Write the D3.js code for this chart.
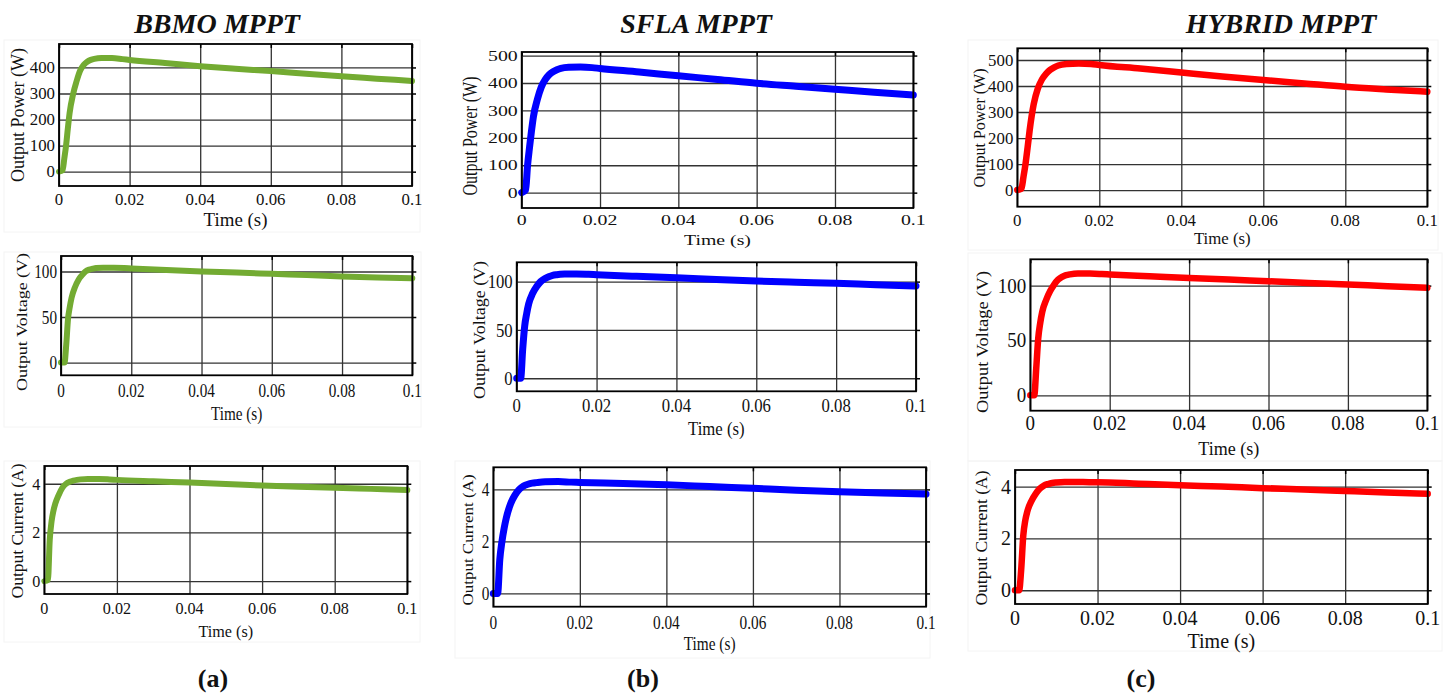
<!DOCTYPE html>
<html>
<head>
<meta charset="utf-8">
<script src="https://cdn.jsdelivr.net/npm/d3@7"></script>
<style>
  html, body { margin: 0; padding: 0; background: #ffffff; }
  svg { display: block; }
  text { font-family: "Liberation Serif", "Times New Roman", serif; fill: #111; }
</style>
</head>
<body>
<svg id="chart" width="1452" height="693"></svg>
<script>
// ---- Simulated output waveforms (time in seconds) ----
const timeS = [0, 0.001, 0.0015, 0.002, 0.0025, 0.003, 0.004, 0.005, 0.006, 0.007, 0.008, 0.009,
               0.010, 0.012, 0.015, 0.018, 0.02, 0.03, 0.04, 0.05, 0.06, 0.07, 0.08, 0.09, 0.1];

const bbmoPower   = [0, 5, 50, 100, 165, 225, 298, 348, 388, 410, 422, 429, 433, 436, 436, 432, 429, 417, 405, 395, 386, 376, 366, 357, 348];
const sflaPower   = [0, 10, 100, 165, 225, 278, 340, 385, 412, 430, 441, 448, 453, 457, 458, 456, 453, 440, 426, 413, 399, 388, 377, 366, 356];
const hybridPower = [0, 5, 50, 100, 162, 228, 330, 390, 425, 447, 462, 472, 479, 485, 487, 485, 481, 467, 452, 437, 423, 410, 397, 387, 378];

const bbmoVoltage   = [0, 0, 20, 48, 61, 71, 83, 91, 96, 100, 102, 103, 103.7, 104, 104, 103.7, 103.3, 101.5, 100, 98.8, 97.4, 96, 94.6, 93.5, 92.7];
const sflaVoltage   = [0, 0, 30, 54, 67, 77, 88, 95, 100, 103, 105, 106.5, 107.2, 107.8, 108, 107.6, 107.2, 105.5, 104, 102.3, 100.7, 99.4, 98.2, 96.8, 95.5];
const hybridVoltage = [0, 0, 25, 52, 66, 76, 87, 95, 101, 105.5, 108, 109.5, 110.3, 111, 111, 110.6, 110.2, 108.6, 107, 105.5, 104, 102.5, 101, 99.5, 98];

const bbmoCurrent   = [0, 0.05, 1.7, 2.45, 2.88, 3.17, 3.55, 3.84, 4.0, 4.08, 4.13, 4.16, 4.18, 4.2, 4.2, 4.18, 4.16, 4.1, 4.05, 3.99, 3.93, 3.88, 3.84, 3.79, 3.74];
const sflaCurrent   = [0, 0, 1.3, 2.0, 2.5, 2.9, 3.45, 3.78, 4.0, 4.13, 4.2, 4.24, 4.26, 4.29, 4.3, 4.28, 4.27, 4.23, 4.18, 4.11, 4.04, 3.97, 3.91, 3.86, 3.82];
const hybridCurrent = [0, 0, 0.8, 2.1, 2.7, 3.05, 3.45, 3.72, 3.92, 4.04, 4.1, 4.14, 4.16, 4.18, 4.18, 4.17, 4.17, 4.11, 4.05, 4.0, 3.94, 3.89, 3.83, 3.77, 3.72];

// ---- Axis ticks and labels ----
const xTicks = [0, 0.02, 0.04, 0.06, 0.08, 0.1];
const xTickLabels = ["0", "0.02", "0.04", "0.06", "0.08", "0.1"];
const powerTicks = [0, 100, 200, 300, 400, 500];
const voltageTicks = [0, 50, 100];
const currentTicks = [0, 2, 4];
const methodTitles = ["BBMO MPPT", "SFLA MPPT", "HYBRID MPPT"];
const panelTags = ["(a)", "(b)", "(c)"];
const xAxisLabel = "Time (s)";
const yAxisLabels = ["Output Power (W)", "Output Voltage (V)", "Output Current (A)"];

// ---- Layout of the 3x3 grid ----
const colors = ["#73ab32", "#0000ff", "#ff0000"];
const lineWidths = [6, 7, 6.5];

const layout = [
  // power row
  { col: 0, series: bbmoPower,   ticks: powerTicks.slice(0, 5), yDomain: [-55, 490], box: [59, 44, 412, 186],
    fs: 16, sx: 1.05, tickY: 199, labY: 220, labFs: 18, yLabX: 17, yLabY: 115, yLabFs: 18, frame: [4, 40, 420, 232] },
  { col: 1, series: sflaPower,   ticks: powerTicks, yDomain: [-56, 513], box: [521.7, 52, 913.3, 208],
    fs: 15, sx: 1.32, tickY: 220, labY: 240, labFs: 15, yLabX: 470, yLabY: 136, yLabFs: 16, frame: null },
  { col: 2, series: hybridPower, ticks: powerTicks, yDomain: [-64, 545], box: [1017.3, 48.3, 1427.3, 206.7],
    fs: 16, sx: 1.05, tickY: 220, labY: 238, labFs: 16, yLabX: 979, yLabY: 128, yLabFs: 16, frame: [968, 40, 1438, 250] },
  // voltage row
  { col: 0, series: bbmoVoltage,   ticks: voltageTicks, yDomain: [-14, 117], box: [61, 256, 412.3, 375.3],
    fs: 19, sx: 0.8, tickY: 390, labY: 413, labFs: 19, yLabX: 22, yLabY: 322, yLabFs: 18, frame: [4, 252, 421, 427] },
  { col: 1, series: sflaVoltage,   ticks: voltageTicks, yDomain: [-13.5, 120], box: [516.7, 262.3, 916, 391.3],
    fs: 19, sx: 0.88, tickY: 405, labY: 428, labFs: 19, yLabX: 479, yLabY: 330, yLabFs: 18, frame: null },
  { col: 2, series: hybridVoltage, ticks: voltageTicks, yDomain: [-14, 124], box: [1030.3, 259.3, 1427.3, 410.7],
    fs: 20, sx: 0.95, tickY: 423, labY: 448, labFs: 19, yLabX: 982, yLabY: 342, yLabFs: 18.5, frame: [968, 253, 1442, 461] },
  // current row
  { col: 0, series: bbmoCurrent,   ticks: currentTicks, yDomain: [-0.53, 4.73], box: [44.3, 466, 407.3, 594],
    fs: 17, sx: 0.95, tickY: 608, labY: 631, labFs: 17, yLabX: 17, yLabY: 531, yLabFs: 17.5, frame: [4, 461, 420, 642] },
  { col: 1, series: sflaCurrent,   ticks: currentTicks, yDomain: [-0.51, 4.85], box: [493.3, 467.3, 926, 606.7],
    fs: 18, sx: 0.85, tickY: 623, labY: 644, labFs: 18, yLabX: 468, yLabY: 540, yLabFs: 17, frame: [455, 461, 930, 658] },
  { col: 2, series: hybridCurrent, ticks: currentTicks, yDomain: [-0.53, 4.64], box: [1015, 470, 1427.7, 604],
    fs: 20, sx: 1.0, tickY: 618, labY: 641, labFs: 20, yLabX: 981, yLabY: 538, yLabFs: 17.5, frame: [968, 461, 1442, 651] }
];

const svg = d3.select("#chart");

// text with an optional horizontal stretch and rotation
function label(parent, x, y, str, opts) {
  const o = Object.assign({ fs: 16, sx: 1, anchor: "middle", weight: "normal", style: "normal", rotate: 0, dy: "0.35em" }, opts);
  return parent.append("text")
    .attr("transform", `translate(${x},${y}) scale(${o.sx},1) rotate(${o.rotate})`)
    .attr("text-anchor", o.anchor)
    .attr("dy", o.dy)
    .attr("font-size", o.fs)
    .attr("font-weight", o.weight)
    .attr("font-style", o.style)
    .text(str);
}

layout.forEach((p, i) => {
  const row = Math.floor(i / 3);
  const [l, t, r, b] = p.box;
  const g = svg.append("g");

  if (p.frame) {
    const [fl, ft, fr, fb] = p.frame;
    g.append("rect").attr("x", fl).attr("y", ft).attr("width", fr - fl).attr("height", fb - ft)
      .attr("fill", "none").attr("stroke", "#f4f4f4").attr("stroke-width", 1);
  }

  const x = d3.scaleLinear().domain([0, 0.1]).range([l, r]);
  const y = d3.scaleLinear().domain(p.yDomain).range([b, t]);

  // grid
  const gx = g.append("g").attr("transform", `translate(0,${b})`)
    .call(d3.axisBottom(x).tickValues(xTicks).tickSize(-(b - t)).tickFormat(""));
  const gy = g.append("g").attr("transform", `translate(${l},0)`)
    .call(d3.axisLeft(y).tickValues(p.ticks).tickSize(-(r - l)).tickFormat(""));
  [gx, gy].forEach(a => {
    a.select(".domain").remove();
    a.selectAll("line").attr("stroke", "#333").attr("stroke-width", 1.3);
  });

  // inward tick marks on top and right edges
  const gt = g.append("g").attr("transform", `translate(0,${t})`)
    .call(d3.axisTop(x).tickValues(xTicks).tickSize(-4).tickFormat(""));
  const gr = g.append("g").attr("transform", `translate(${r},0)`)
    .call(d3.axisRight(y).tickValues(p.ticks).tickSize(4).tickFormat(""));
  [gt, gr].forEach(a => {
    a.select(".domain").remove();
    a.selectAll("line").attr("stroke", "#000").attr("stroke-width", 1.5);
  });

  // waveform
  const line = d3.line()
    .x((d, k) => x(timeS[k]))
    .y(d => y(d))
    .curve(d3.curveMonotoneX);
  g.append("path")
    .datum(p.series)
    .attr("d", line)
    .attr("fill", "none")
    .attr("stroke", colors[p.col])
    .attr("stroke-width", lineWidths[p.col])
    .attr("stroke-linejoin", "round")
    .attr("stroke-linecap", "round");

  // axes box
  g.append("rect").attr("x", l).attr("y", t).attr("width", r - l).attr("height", b - t)
    .attr("fill", "none").attr("stroke", "#000").attr("stroke-width", 1.8);

  // tick labels
  xTicks.forEach((v, k) => label(g, x(v), p.tickY, xTickLabels[k], { fs: p.fs, sx: p.sx }));
  p.ticks.forEach(v => label(g, l - 4, y(v), String(v), { fs: p.fs, sx: p.sx, anchor: "end" }));

  // axis titles
  label(g, (l + r) / 2, p.labY, xAxisLabel, { fs: p.labFs, sx: p.sx });
  label(g, p.yLabX, p.yLabY, yAxisLabels[row], { fs: p.yLabFs, sx: p.sx, rotate: -90 });
});

// column headings and tags
const titleX = [217, 696, 1281];
const tagX = [213, 643, 1141];
methodTitles.forEach((s, i) =>
  label(svg, titleX[i], 33, s, { fs: 28, weight: "bold", style: "italic", dy: 0 }));
panelTags.forEach((s, i) =>
  label(svg, tagX[i], 687, s, { fs: 26, weight: "bold", dy: 0 }));
</script>
</body>
</html>
